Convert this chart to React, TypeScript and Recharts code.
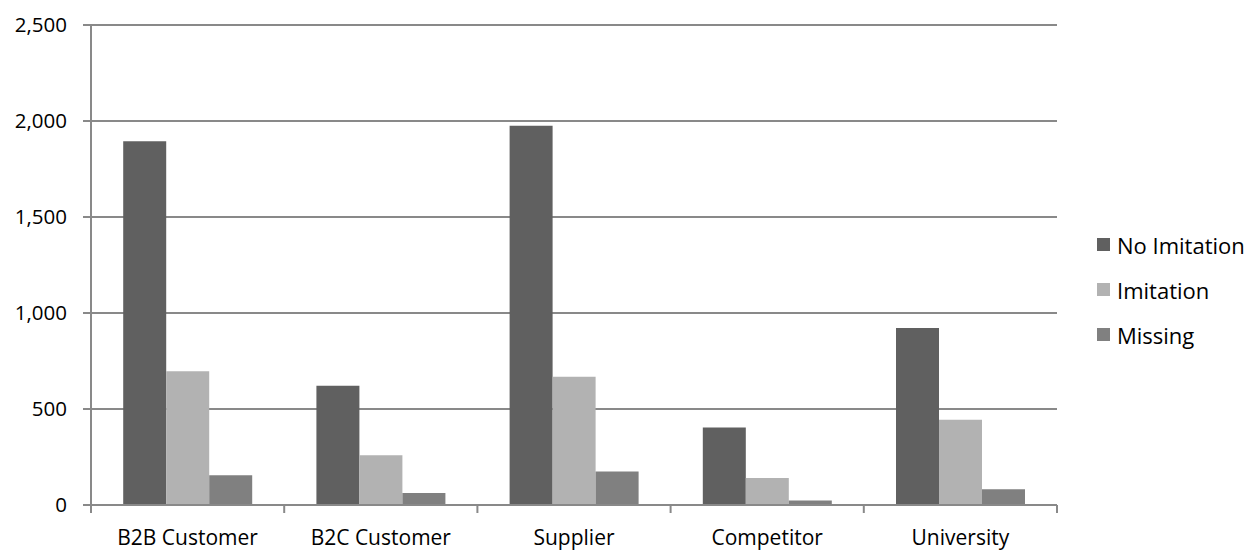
import React from "react";
import { BarChart, Bar, XAxis, YAxis, CartesianGrid } from "recharts";

const categories = ["B2B Customer", "B2C Customer", "Supplier", "Competitor", "University"];
const noImitation = [1894, 621, 1975, 404, 922];
const imitation = [696, 259, 668, 141, 444];
const missing = [155, 62, 174, 23, 82];
const yTicks = [0, 500, 1000, 1500, 2000, 2500];

const seriesList = [
  { key: "noImitation", name: "No Imitation", color: "#606060" },
  { key: "imitation", name: "Imitation", color: "#b2b2b2" },
  { key: "missing", name: "Missing", color: "#808080" },
];

const data = categories.map((c, i) => ({
  category: c,
  noImitation: noImitation[i],
  imitation: imitation[i],
  missing: missing[i],
}));

const FONT = "'Open Sans', sans-serif";
const AXIS = "#898989";
const X_TICK_SIZE = 8;
const X_TICK_MARGIN = 10;
const X_LABEL_SHIFT = 7;

function CategoryTick(props: any) {
  const { x, y, payload, index, visibleTicksCount } = props;
  const half = payload?.offset ?? 0;
  const axisY = y - X_TICK_SIZE - X_TICK_MARGIN;
  const isLast = index === (visibleTicksCount ?? categories.length) - 1;
  return (
    <g>
      <line x1={x - half} x2={x - half} y1={axisY} y2={axisY + X_TICK_SIZE} stroke={AXIS} strokeWidth={2} />
      {isLast && (
        <line x1={x + half} x2={x + half} y1={axisY} y2={axisY + X_TICK_SIZE} stroke={AXIS} strokeWidth={2} />
      )}
      <text x={x} y={y + X_LABEL_SHIFT} dy="0.71em" textAnchor="middle" fill="#000" fontSize={21} fontFamily={FONT}>
        {payload.value}
      </text>
    </g>
  );
}

export default function App() {
  return (
    <div style={{ position: "absolute", left: 0, top: 0, width: 1248, height: 551, background: "#fff" }}>
      <BarChart
        width={1248}
        height={551}
        data={data}
        margin={{ top: 25, right: 191, bottom: 0, left: 0 }}
        barCategoryGap="16.67%"
        barGap={0}
      >
        <CartesianGrid horizontal vertical={false} stroke={AXIS} strokeWidth={2} />
        <XAxis
          dataKey="category"
          tickLine={false}
          tickSize={X_TICK_SIZE}
          tickMargin={X_TICK_MARGIN}
          axisLine={{ stroke: AXIS, strokeWidth: 2 }}
          height={46}
          tick={<CategoryTick />}
          interval={0}
        />
        <YAxis
          width={91}
          domain={[0, 2500]}
          ticks={yTicks}
          tickSize={8}
          tickLine={{ stroke: AXIS, strokeWidth: 2 }}
          axisLine={{ stroke: AXIS, strokeWidth: 2 }}
          tick={{ fill: "#000", fontSize: 20.5, fontFamily: FONT }}
          tickMargin={16}
          tickFormatter={(v: number) => v.toLocaleString("en-US")}
        />
        {seriesList.map((s) => (
          <Bar
            key={s.key}
            dataKey={s.key}
            name={s.name}
            fill={s.color}
            isAnimationActive={false}
          />
        ))}
      </BarChart>
      <div style={{ position: "absolute", left: 1097, top: 222, fontFamily: FONT, fontSize: 22, color: "#000" }}>
        {seriesList.map((s) => (
          <div key={s.key} style={{ display: "flex", alignItems: "center", height: 45 }}>
            <div style={{ width: 13, height: 13, background: s.color, marginRight: 7 }} />
            <span style={{ lineHeight: "28px" }}>{s.name}</span>
          </div>
        ))}
      </div>
    </div>
  );
}
